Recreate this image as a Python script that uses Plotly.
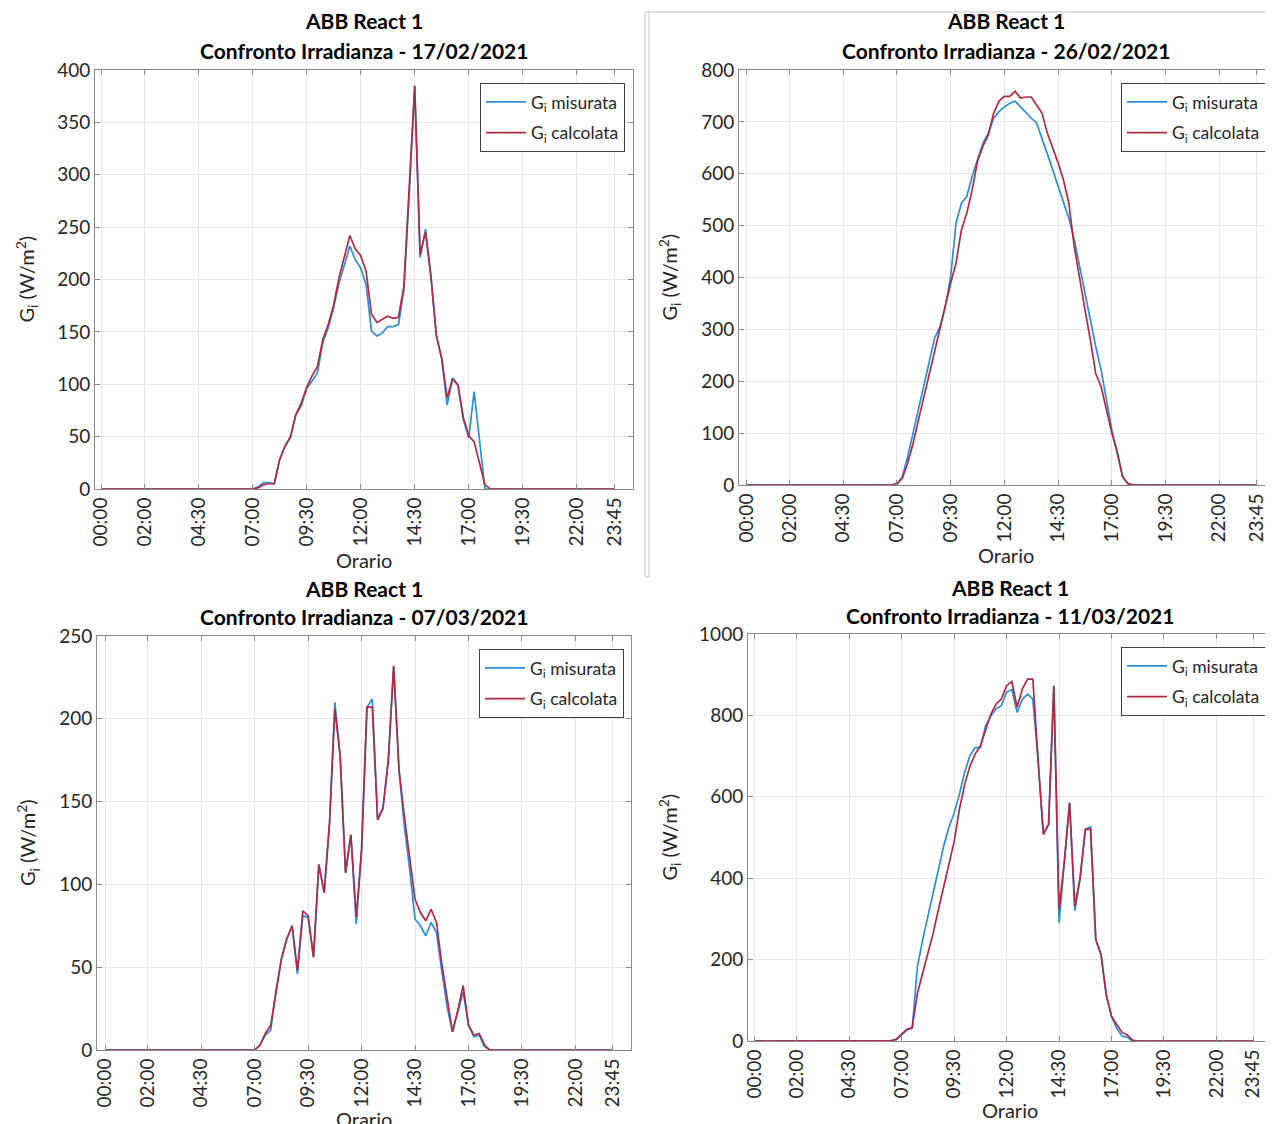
import plotly.graph_objects as go

W, H = 1273, 1124
PAGE_OFFSET = 8  # the page body margin shifts the figure by 8 px

# 15-minute time categories for one day
TIMES = [f"{h:02d}:{m:02d}" for h in range(24) for m in (0, 15, 30, 45)]
TICK_LABELS = ["00:00", "02:00", "04:30", "07:00", "09:30", "12:00",
               "14:30", "17:00", "19:30", "22:00", "23:45"]

DATES = ["17/02/2021", "26/02/2021", "07/03/2021", "11/03/2021"]

# ---- 17/02/2021 ----
G_MIS_1702 = [
    0, 0, 0, 0, 0, 0, 0, 0,
    0, 0, 0, 0, 0, 0, 0, 0,
    0, 0, 0, 0, 0, 0, 0, 0,
    0, 0, 0, 0, 0, 2, 6, 6,
    5, 28, 41, 49, 71, 79, 96, 103,
    111, 140, 154, 173, 197, 214, 232, 219,
    211, 195, 151, 146, 149, 155, 155, 157,
    190, 283, 385, 221, 248, 203, 146, 124,
    80, 106, 100, 66, 49, 93, 45, 0,
    0, 0, 0, 0, 0, 0, 0, 0,
    0, 0, 0, 0, 0, 0, 0, 0,
    0, 0, 0, 0, 0, 0, 0, 0,
]
G_CALC_1702 = [
    0, 0, 0, 0, 0, 0, 0, 0,
    0, 0, 0, 0, 0, 0, 0, 0,
    0, 0, 0, 0, 0, 0, 0, 0,
    0, 0, 0, 0, 0, 1, 4, 5,
    5, 28, 41, 50, 71, 82, 97, 108,
    117, 143, 157, 176, 202, 222, 242, 229,
    223, 208, 167, 159, 162, 165, 163, 164,
    194, 286, 385, 224, 245, 203, 147, 125,
    87, 105, 99, 68, 51, 45, 25, 4,
    0, 0, 0, 0, 0, 0, 0, 0,
    0, 0, 0, 0, 0, 0, 0, 0,
    0, 0, 0, 0, 0, 0, 0, 0,
]

# ---- 26/02/2021 ----
G_MIS_2602 = [
    0, 0, 0, 0, 0, 0, 0, 0,
    0, 0, 0, 0, 0, 0, 0, 0,
    0, 0, 0, 0, 0, 0, 0, 0,
    0, 0, 0, 0, 0, 16, 55, 100,
    145, 190, 235, 283, 305, 344, 402, 505,
    543, 556, 595, 627, 659, 678, 707, 720,
    729, 736, 740, 729, 717, 707, 698, 669,
    637, 608, 576, 543, 514, 473, 421, 370,
    318, 267, 222, 164, 106, 61, 16, 2,
    0, 0, 0, 0, 0, 0, 0, 0,
    0, 0, 0, 0, 0, 0, 0, 0,
    0, 0, 0, 0, 0, 0, 0, 0,
]
G_CALC_2602 = [
    0, 0, 0, 0, 0, 0, 0, 0,
    0, 0, 0, 0, 0, 0, 0, 0,
    0, 0, 0, 0, 0, 0, 0, 0,
    0, 0, 0, 0, 3, 13, 42, 80,
    125, 170, 215, 260, 299, 344, 389, 428,
    492, 524, 569, 624, 653, 675, 717, 740,
    749, 749, 759, 746, 748, 748, 733, 717,
    678, 650, 621, 588, 543, 460, 395, 338,
    280, 215, 190, 145, 100, 64, 16, 3,
    0, 0, 0, 0, 0, 0, 0, 0,
    0, 0, 0, 0, 0, 0, 0, 0,
    0, 0, 0, 0, 0, 0, 0, 0,
]

# ---- 07/03/2021 ----
G_MIS_0703 = [
    0, 0, 0, 0, 0, 0, 0, 0,
    0, 0, 0, 0, 0, 0, 0, 0,
    0, 0, 0, 0, 0, 0, 0, 0,
    0, 0, 0, 0, 0, 3, 9, 12,
    36, 55, 67, 75, 46, 81, 80, 56,
    112, 95, 137, 210, 177, 107, 130, 76,
    121, 207, 212, 139, 146, 175, 232, 169,
    135, 109, 79, 75, 69, 77, 71, 48,
    26, 11, 23, 35, 15, 8, 9, 2,
    0, 0, 0, 0, 0, 0, 0, 0,
    0, 0, 0, 0, 0, 0, 0, 0,
    0, 0, 0, 0, 0, 0, 0, 0,
]
G_CALC_0703 = [
    0, 0, 0, 0, 0, 0, 0, 0,
    0, 0, 0, 0, 0, 0, 0, 0,
    0, 0, 0, 0, 0, 0, 0, 0,
    0, 0, 0, 0, 0, 3, 10, 15,
    36, 55, 67, 75, 48, 84, 81, 56,
    112, 95, 137, 206, 177, 107, 130, 80,
    121, 207, 207, 139, 146, 175, 232, 169,
    141, 115, 91, 83, 78, 85, 77, 52,
    30, 11, 24, 39, 15, 9, 10, 3,
    0, 0, 0, 0, 0, 0, 0, 0,
    0, 0, 0, 0, 0, 0, 0, 0,
    0, 0, 0, 0, 0, 0, 0, 0,
]

# ---- 11/03/2021 ----
G_MIS_1103 = [
    0, 0, 0, 0, 0, 0, 0, 0,
    0, 0, 0, 0, 0, 0, 0, 0,
    0, 0, 0, 0, 0, 0, 0, 0,
    0, 0, 1, 3, 15, 27, 31, 183,
    249, 306, 364, 421, 479, 525, 560, 606,
    660, 701, 721, 721, 775, 799, 816, 824,
    858, 863, 807, 840, 852, 840, 690, 508,
    532, 873, 290, 440, 585, 320, 397, 520,
    526, 249, 212, 113, 60, 31, 12, 9,
    0, 0, 0, 0, 0, 0, 0, 0,
    0, 0, 0, 0, 0, 0, 0, 0,
    0, 0, 0, 0, 0, 0, 0, 0,
]
G_CALC_1103 = [
    0, 0, 0, 0, 0, 0, 0, 0,
    0, 0, 0, 0, 0, 0, 0, 0,
    0, 0, 0, 0, 0, 0, 0, 0,
    0, 0, 1, 5, 17, 29, 33, 117,
    167, 216, 265, 323, 380, 438, 490, 570,
    630, 675, 705, 725, 766, 803, 828, 840,
    873, 883, 820, 865, 889, 889, 690, 508,
    532, 873, 323, 440, 585, 331, 400, 520,
    520, 249, 212, 113, 60, 39, 21, 15,
    2, 0, 0, 0, 0, 0, 0, 0,
    0, 0, 0, 0, 0, 0, 0, 0,
    0, 0, 0, 0, 0, 0, 0, 0,
]

MEASURED = [G_MIS_1702, G_MIS_2602, G_MIS_0703, G_MIS_1103]
CALCULATED = [G_CALC_1702, G_CALC_2602, G_CALC_0703, G_CALC_1103]
for s in MEASURED + CALCULATED:
    assert len(s) == 96

Y_MAX = [400, 800, 250, 1000]
Y_DTICK = [50, 100, 50, 200]

# panel pixel boxes (screen px): (left, right, top, bottom), x range, title y's, ylabel x, xlabel y, legend (left, top)
PANELS = [
    dict(box=(95, 633, 70, 489), xr=(-1.17, 98.4), t1=21, t2=50, ylx=26, xly=560, leg=(480, 83)),
    dict(box=(739, 1273, 70, 485), xr=(-1.4, 98.0), t1=21, t2=50, ylx=669, xly=555, leg=(1121, 83)),
    dict(box=(97, 631, 636, 1050), xr=(-1.5, 98.4), t1=588, t2=617, ylx=28, xly=1119, leg=(479, 649)),
    dict(box=(748, 1271, 634, 1041), xr=(-1.3, 98.4), t1=587, t2=615, ylx=669, xly=1110, leg=(1121, 647)),
]

BLUE = "#2b8ed6"
RED = "#b02a45"
AX = "#8a8a8a"
TXT = "#262626"
FONT = "Lato"


def fx(px):
    return (px - PAGE_OFFSET) / W


def fy(py):
    return 1 - (py - PAGE_OFFSET) / H


fig = go.Figure()
annotations = []
layout = dict(
    width=W, height=H,
    margin=dict(l=0, r=0, t=0, b=0, pad=0, autoexpand=False),
    paper_bgcolor="white", plot_bgcolor="white",
    font=dict(family=FONT, color=TXT),
)

for i, p in enumerate(PANELS):
    n = "" if i == 0 else str(i + 1)
    xa, ya = "x" + n, "y" + n
    lg = "legend" + n
    l, r, t, b = p["box"]
    fig.add_trace(go.Scatter(x=TIMES, y=MEASURED[i], mode="lines",
                             line=dict(color=BLUE, width=1.7),
                             name="G<sub>i</sub> misurata", legendgroup=f"m{i}",
                             xaxis=xa, yaxis=ya, legend=lg))
    fig.add_trace(go.Scatter(x=TIMES, y=CALCULATED[i], mode="lines",
                             line=dict(color=RED, width=1.7),
                             name="G<sub>i</sub> calcolata", legendgroup=f"c{i}",
                             xaxis=xa, yaxis=ya, legend=lg))
    layout["xaxis" + n] = dict(
        domain=[fx(l), fx(r)], anchor=ya, type="category",
        categoryorder="array", categoryarray=TIMES,
        range=list(p["xr"]), tickmode="array",
        tickvals=TICK_LABELS, ticktext=TICK_LABELS, tickangle=-90,
        ticks="inside", ticklen=5, tickcolor=AX,
        showline=True, linecolor=AX, linewidth=1, mirror="ticks",
        showgrid=True, gridcolor="#e6e6e6", gridwidth=1, zeroline=False,
        tickfont=dict(family=FONT, size=19, color=TXT),
        automargin=False, fixedrange=True,
    )
    layout["yaxis" + n] = dict(
        domain=[fy(b), fy(t)], anchor=xa,
        range=[0, Y_MAX[i]], dtick=Y_DTICK[i], tick0=0,
        ticks="inside", ticklen=5, tickcolor=AX,
        showline=True, linecolor=AX, linewidth=1, mirror="ticks",
        showgrid=True, gridcolor="#e6e6e6", gridwidth=1, zeroline=False,
        tickfont=dict(family=FONT, size=19, color=TXT),
        automargin=False, fixedrange=True,
    )
    layout[lg] = dict(
        x=fx(p["leg"][0]), y=fy(p["leg"][1]), xanchor="left", yanchor="top",
        xref="paper", yref="paper",
        bgcolor="white", bordercolor="#404040", borderwidth=1,
        font=dict(family=FONT, size=17.5, color=TXT),
        tracegroupgap=5, itemwidth=40,
    )
    cx = (l + r) / 2
    annotations += [
        dict(text="<b>ABB React 1</b>", x=fx(cx), y=fy(p["t1"]), xref="paper", yref="paper",
             xanchor="center", yanchor="middle", showarrow=False,
             font=dict(family=FONT, size=21, color="black")),
        dict(text=f"<b>Confronto Irradianza - {DATES[i]}</b>", x=fx(cx), y=fy(p["t2"]),
             xref="paper", yref="paper", xanchor="center", yanchor="middle", showarrow=False,
             font=dict(family=FONT, size=21, color="black")),
        dict(text="G<sub>i</sub> (W/m<sup>2</sup>)", x=fx(p["ylx"]), y=fy((t + b) / 2),
             xref="paper", yref="paper", xanchor="center", yanchor="middle", showarrow=False,
             textangle=-90, font=dict(family=FONT, size=20, color=TXT)),
        dict(text="Orario", x=fx(cx), y=fy(p["xly"]), xref="paper", yref="paper",
             xanchor="center", yanchor="middle", showarrow=False,
             font=dict(family=FONT, size=20, color=TXT)),
    ]

# screenshot frame lines around the top-right panel
FRAME = "#c4c4c4"
shapes = [
    dict(type="line", xref="paper", yref="paper", x0=fx(645), x1=fx(645), y0=fy(12), y1=fy(577),
         line=dict(color=FRAME, width=1)),
    dict(type="line", xref="paper", yref="paper", x0=fx(649), x1=fx(649), y0=fy(12), y1=fy(577),
         line=dict(color=FRAME, width=1)),
    dict(type="line", xref="paper", yref="paper", x0=fx(645), x1=fx(649), y0=fy(577), y1=fy(577),
         line=dict(color=FRAME, width=1)),
    dict(type="line", xref="paper", yref="paper", x0=fx(645), x1=1, y0=fy(12), y1=fy(12),
         line=dict(color=FRAME, width=1)),
]

layout["annotations"] = annotations
layout["shapes"] = shapes
fig.update_layout(**layout)
fig.write_html("out.html")
